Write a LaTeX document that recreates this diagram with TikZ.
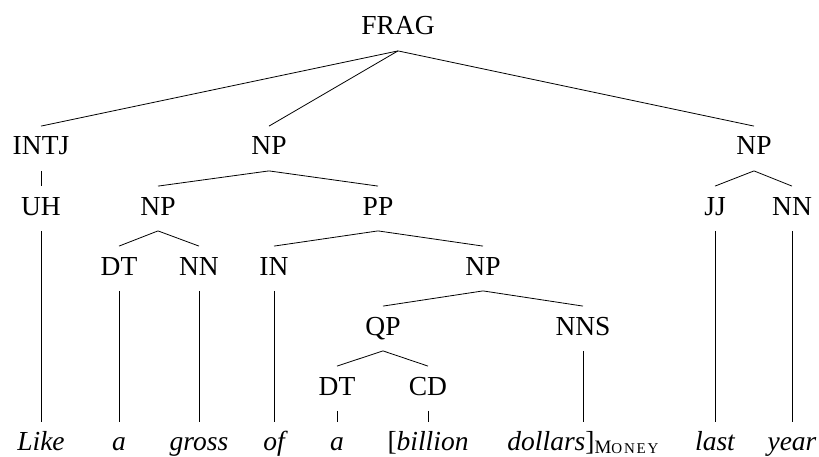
\documentclass[tikz,border=0pt]{standalone}
\usepackage{fontspec}
\setmainfont{Liberation Serif}
\newcommand{\moneytag}{{\fontsize{19}{19}\selectfont M}{\fontsize{15}{15}\selectfont\addfontfeatures{LetterSpace=12}ONEY}}
\begin{document}
\begin{tikzpicture}[x=1pt, y=-1pt, line width=0.8pt,
    cat/.style={anchor=base, font=\fontsize{27.5}{33}\selectfont,
        text height=18.5pt, text depth=5.5pt, inner xsep=0pt, inner ysep=10pt},
    word/.style={cat, inner ysep=9pt, font=\fontsize{27.5}{33}\selectfont\itshape}]
    \useasboundingbox (0,0) rectangle (819,457);

    % Root
    \node[cat] (frag) at (398,35) {FRAG};

    % Phrases
    \node[cat] (intj) at (41,155) {INTJ};
    \node[cat] (np1) at (269,155) {NP};
    \node[cat] (np2) at (754,155) {NP};

    \node[cat] (uh) at (41,215) {UH};
    \node[cat] (np3) at (158,215) {NP};
    \node[cat] (pp) at (378,215) {PP};
    \node[cat] (jj) at (715,215) {JJ};
    \node[cat] (nn2) at (792,215) {NN};

    \node[cat] (dt1) at (119,275) {DT};
    \node[cat] (nn1) at (199,275) {NN};
    \node[cat] (in) at (274,275) {IN};
    \node[cat] (np4) at (483,275) {NP};

    \node[cat] (qp) at (383,335) {QP};
    \node[cat] (nns) at (583,335) {NNS};

    \node[cat] (dt2) at (337,395) {DT};
    \node[cat] (cd) at (428,395) {CD};

    % Words
    \node[word] (w1) at (41,450) {Like};
    \node[word] (w2) at (119,450) {a};
    \node[word] (w3) at (199,450) {gross};
    \node[word] (w4) at (274,450) {of};
    \node[word] (w5) at (337,450) {a};
    \node[word] (w6) at (428,450) {\textup{[}billion};
    \node[word] (w7) at (583,450) {dollars\textup{]}\raisebox{-3pt}{\upshape\moneytag}};
    \node[word] (w8) at (715,450) {last};
    \node[word] (w9) at (792,450) {year};

    % Branches
    \foreach \a/\b in {frag/intj, frag/np1, frag/np2,
        intj/uh, np1/np3, np1/pp, np2/jj, np2/nn2,
        np3/dt1, np3/nn1, pp/in, pp/np4,
        np4/qp, np4/nns, qp/dt2, qp/cd,
        uh/w1, dt1/w2, nn1/w3, in/w4, dt2/w5, cd/w6, nns/w7, jj/w8, nn2/w9}
        \draw (\a.south) -- (\b.north);
\end{tikzpicture}
\end{document}
